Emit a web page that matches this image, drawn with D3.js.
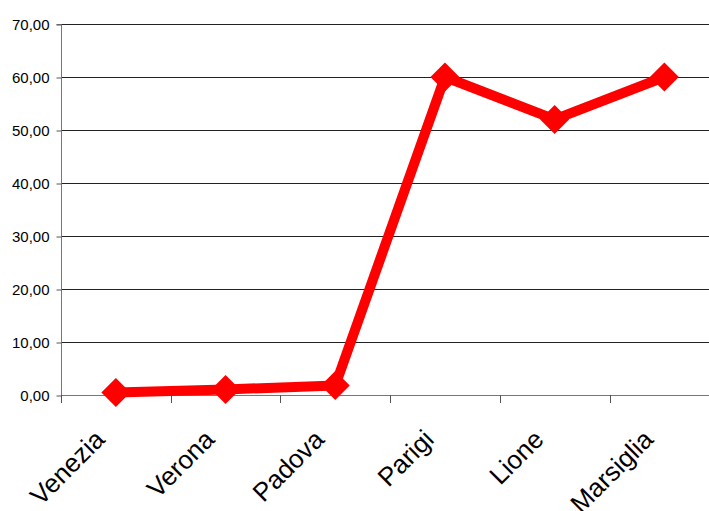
<!DOCTYPE html>
<html>
<head>
<meta charset="utf-8">
<script src="https://cdn.jsdelivr.net/npm/d3@7"></script>
<style>
  html, body { margin: 0; padding: 0; background: #fff; }
  svg { display: block; }
  text { font-family: "Liberation Sans", Arial, sans-serif; fill: #000; }
</style>
</head>
<body>
<svg id="chart" width="709" height="511"></svg>
<script>
// City values
const categories = ["Venezia", "Verona", "Padova", "Parigi", "Lione", "Marsiglia"];
const values = [0.45, 1.05, 1.8, 60, 52, 60];
const yTicks = [0, 10, 20, 30, 40, 50, 60, 70];

const svg = d3.select("#chart");
const W = 709, H = 511;
const plotLeft = 61, plotTop = 24, plotBottom = 395;
const band = 109.7;

const x = d3.scaleBand().domain(categories).range([plotLeft, plotLeft + band * categories.length]).padding(0);
const y = d3.scaleLinear().domain([0, 70]).range([plotBottom, plotTop]);

// horizontal gridlines
svg.append("g").selectAll("line").data(yTicks.filter(d => d > 0)).join("line")
  .attr("x1", plotLeft).attr("x2", W)
  .attr("y1", d => Math.round(y(d)) + 0.5).attr("y2", d => Math.round(y(d)) + 0.5)
  .attr("stroke", "#222").attr("stroke-width", 1);

// y axis
const yAxis = d3.axisLeft(y).tickValues(yTicks).tickSize(5).tickPadding(7)
  .tickFormat(d => d3.format(".2f")(d).replace(".", ","));
const gy = svg.append("g").attr("transform", `translate(${plotLeft + 0.5},0.5)`).call(yAxis);
gy.select(".domain").attr("stroke", "#777").attr("d", `M-5,${Math.round(y(70))}H0V${Math.round(y(0))}`);
gy.selectAll(".tick line").attr("stroke", "#555");
gy.selectAll(".tick text").style("font-size", "15px").style("font-family", "'Liberation Sans', Arial, sans-serif");

// x axis baseline and ticks at band edges
const edges = d3.range(categories.length + 1).map(i => plotLeft + i * band);
svg.append("line").attr("x1", plotLeft).attr("x2", W)
  .attr("y1", Math.round(y(0)) + 0.5).attr("y2", Math.round(y(0)) + 0.5)
  .attr("stroke", "#777");
svg.append("g").selectAll("line").data(edges).join("line")
  .attr("x1", d => Math.round(d) + 0.5).attr("x2", d => Math.round(d) + 0.5)
  .attr("y1", Math.round(y(0))).attr("y2", Math.round(y(0)) + 8)
  .attr("stroke", "#555");

// category labels, rotated
svg.append("g").selectAll("text").data(categories).join("text")
  .attr("transform", d => `translate(${x(d) + x.bandwidth() / 2 - 9.5},${441}) rotate(-45)`)
  .attr("text-anchor", "end")
  .style("font-size", "26px")
  .text(d => d);

// series line
const pts = categories.map((c, i) => [x(c) + x.bandwidth() / 2, y(values[i])]);
svg.append("path")
  .attr("d", d3.line()(pts))
  .attr("fill", "none")
  .attr("stroke", "#ff0000")
  .attr("stroke-width", 10)
  .attr("stroke-linejoin", "round");

// diamond markers (half-diagonal about 14.5px)
const r = 14.5;
const diamond = d3.symbol().type(d3.symbolDiamond2).size(Math.pow(r / 0.62625, 2));
svg.append("g").selectAll("path").data(pts).join("path")
  .attr("transform", d => `translate(${d[0]},${d[1]})`)
  .attr("d", diamond)
  .attr("fill", "#ff0000");
</script>
</body>
</html>
